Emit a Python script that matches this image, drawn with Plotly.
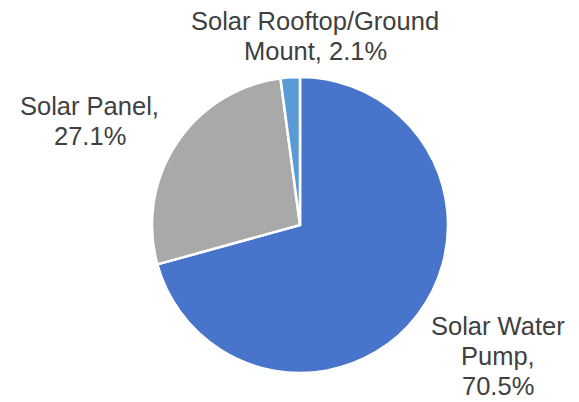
import plotly.graph_objects as go

labels = ["Solar Water Pump", "Solar Panel", "Solar Rooftop/Ground Mount"]
values = [70.5, 27.1, 2.1]
label_lines = [["Solar Water", "Pump,", "{v}%"], ["Solar Panel,", "{v}%"], ["Solar Rooftop/Ground", "Mount, {v}%"]]
colors = ["#4874CB", "#A9A9A9", "#5B9BD5"]

OFF = 8  # page body margin
W, H = 579 - OFF, 402 - OFF
cx, cy, r = 300 - OFF, 225 - OFF, 148

fig = go.Figure(go.Pie(
    labels=labels, values=values, sort=False, direction="clockwise", rotation=0,
    marker=dict(colors=colors, line=dict(color="white", width=2.5)),
    textinfo="none", hoverinfo="label+percent", showlegend=False,
    domain=dict(x=[(cx - r) / W, (cx + r) / W], y=[(H - cy - r) / H, (H - cy + r) / H]),
))

# label anchor: (center x, first line center y); lines spaced 30px
label_pos = [(498, 326), (90, 106), (315, 21)]
for lines, v, (px, py) in zip(label_lines, values, label_pos):
    for i, t in enumerate(lines):
        fig.add_annotation(
            text=t.format(v=v), x=(px - OFF) / W, y=1 - (py + 30 * i - OFF) / H,
            xref="paper", yref="paper",
            xanchor="center", yanchor="middle", showarrow=False, align="center",
            font=dict(family="Liberation Sans, Arial, sans-serif", size=25.5, color="#404040"),
        )

fig.update_layout(
    width=W, height=H, margin=dict(l=0, r=0, t=0, b=0),
    paper_bgcolor="white", plot_bgcolor="white",
)
fig.write_html("out.html")
